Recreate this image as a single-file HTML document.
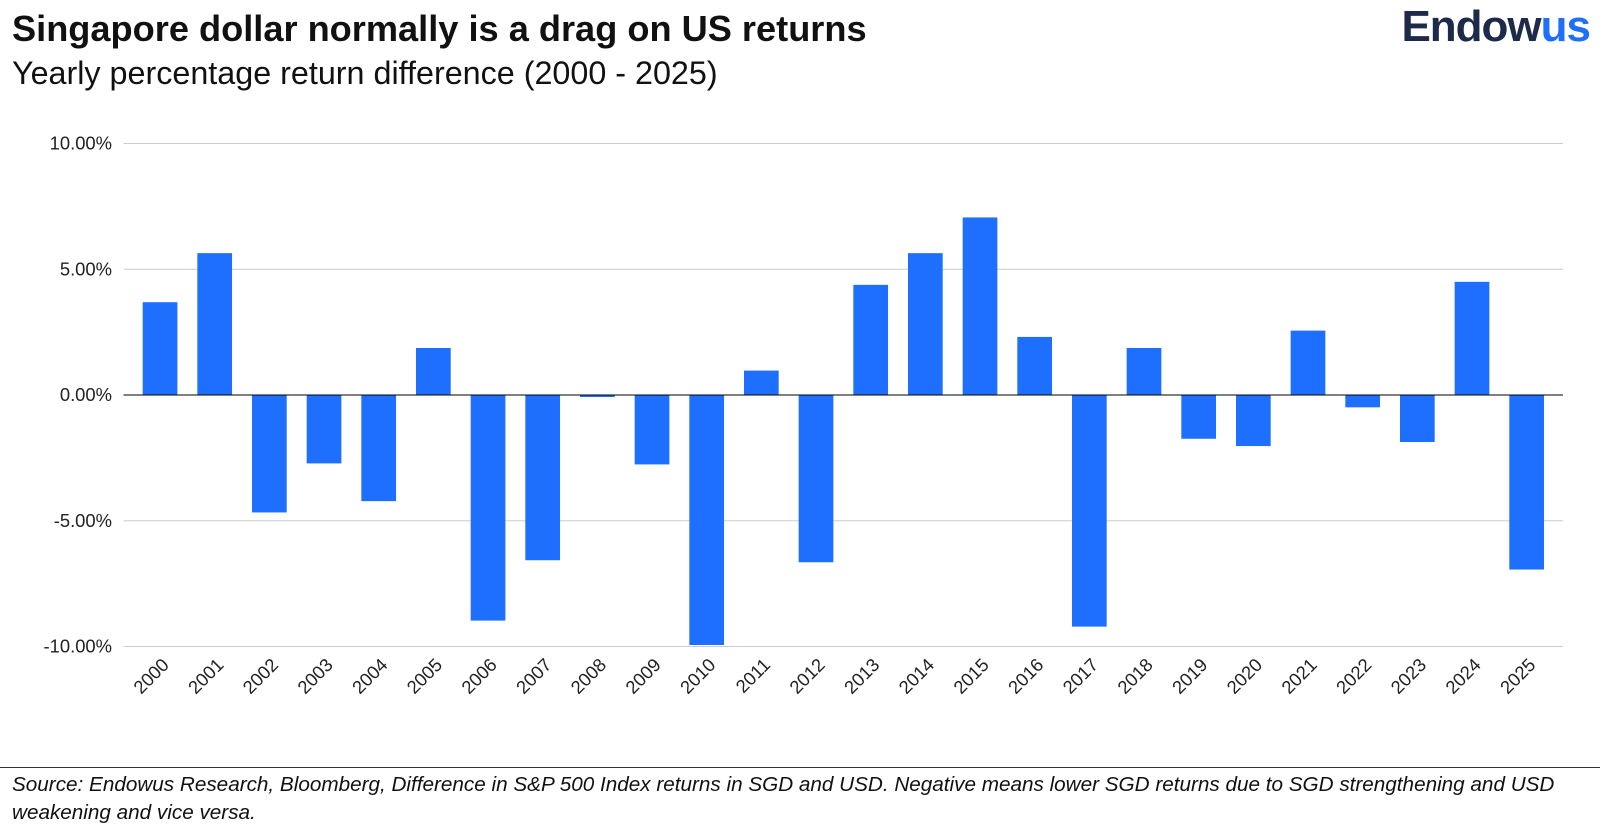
<!DOCTYPE html>
<html><head><meta charset="utf-8">
<style>
body{margin:0;width:1600px;height:834px;background:#fff;overflow:hidden;font-family:"Liberation Sans",sans-serif;}
#title{position:absolute;left:12px;top:8px;font-size:36.2px;font-weight:bold;color:#111;}
#sub{position:absolute;left:12px;top:55px;font-size:32.3px;color:#111;}
#logo{position:absolute;right:10px;top:2px;font-size:44px;font-weight:bold;color:#1e2a4a;letter-spacing:-1px;}
#logo span{color:#1f6fff;}
#rule{position:absolute;left:0;top:767px;width:1600px;height:1px;background:#333;}
#foot{position:absolute;left:12px;top:771px;font-size:20.7px;font-style:italic;color:#111;line-height:28px;width:1580px;}
svg{position:absolute;left:0;top:0;}
</style></head><body>
<div id="title">Singapore dollar normally is a drag on US returns</div>
<div id="sub">Yearly percentage return difference (2000 - 2025)</div>
<div id="logo">Endow<span>us</span></div>
<svg id="chart" width="1600" height="765"></svg>
<div id="rule"></div>
<div id="foot">Source: Endowus Research, Bloomberg, Difference in S&amp;P 500 Index returns in SGD and USD. Negative means lower SGD returns due to SGD strengthening and USD weakening and vice versa.</div>
<script>
const categories=["2000","2001","2002","2003","2004","2005","2006","2007","2008","2009","2010","2011","2012","2013","2014","2015","2016","2017","2018","2019","2020","2021","2022","2023","2024","2025"];
const values=[3.69,5.64,-4.67,-2.72,-4.22,1.87,-8.97,-6.57,-0.08,-2.76,-9.94,0.97,-6.65,4.38,5.64,7.06,2.31,-9.21,1.87,-1.74,-2.03,2.56,-0.49,-1.87,4.5,-6.94];
const ticks=[10,5,0,-5,-10];
const tickLabels=["10.00%","5.00%","0.00%","-5.00%","-10.00%"];
const svg=document.getElementById('chart');
const NS='http://www.w3.org/2000/svg';
const x0=132.7,x1=1554;
function y(v){return 395-v*25.15;}
const band=(x1-x0)/categories.length;
function xc(i){return x0+band*(i+0.5);}
function mk(t,a){const e=document.createElementNS(NS,t);for(const k in a)e.setAttribute(k,a[k]);svg.appendChild(e);return e;}
ticks.forEach((t,i)=>{
  const l=mk('line',{x1:123.5,x2:1563,y1:y(t),y2:y(t),stroke:t===0?'#000':'#ccc','stroke-width':1});
  
  
  const tx=mk('text',{x:112,y:y(t)+6,'text-anchor':'end','font-size':18.4,fill:'#222'});
  tx.textContent=tickLabels[i];
  
  
});
values.forEach((v,i)=>{
  const top=Math.min(y(v),y(0)),h=Math.max(Math.abs(y(v)-y(0)),1);
  const r=mk('rect',{x:xc(i)-17.35,y:top,width:34.7,height:h,fill:'#1f6fff'});
  
  
  const lx=xc(i)+10,ly=666;
  const tx=mk('text',{x:lx,y:ly,'text-anchor':'end','font-size':18.4,fill:'#222',transform:`rotate(-45 ${lx} ${ly})`});
  tx.textContent=categories[i];
  
  
});
const z=mk('line',{x1:123.5,x2:1563,y1:y(0),y2:y(0),stroke:'#000','stroke-width':1});


</script>
</body></html>
